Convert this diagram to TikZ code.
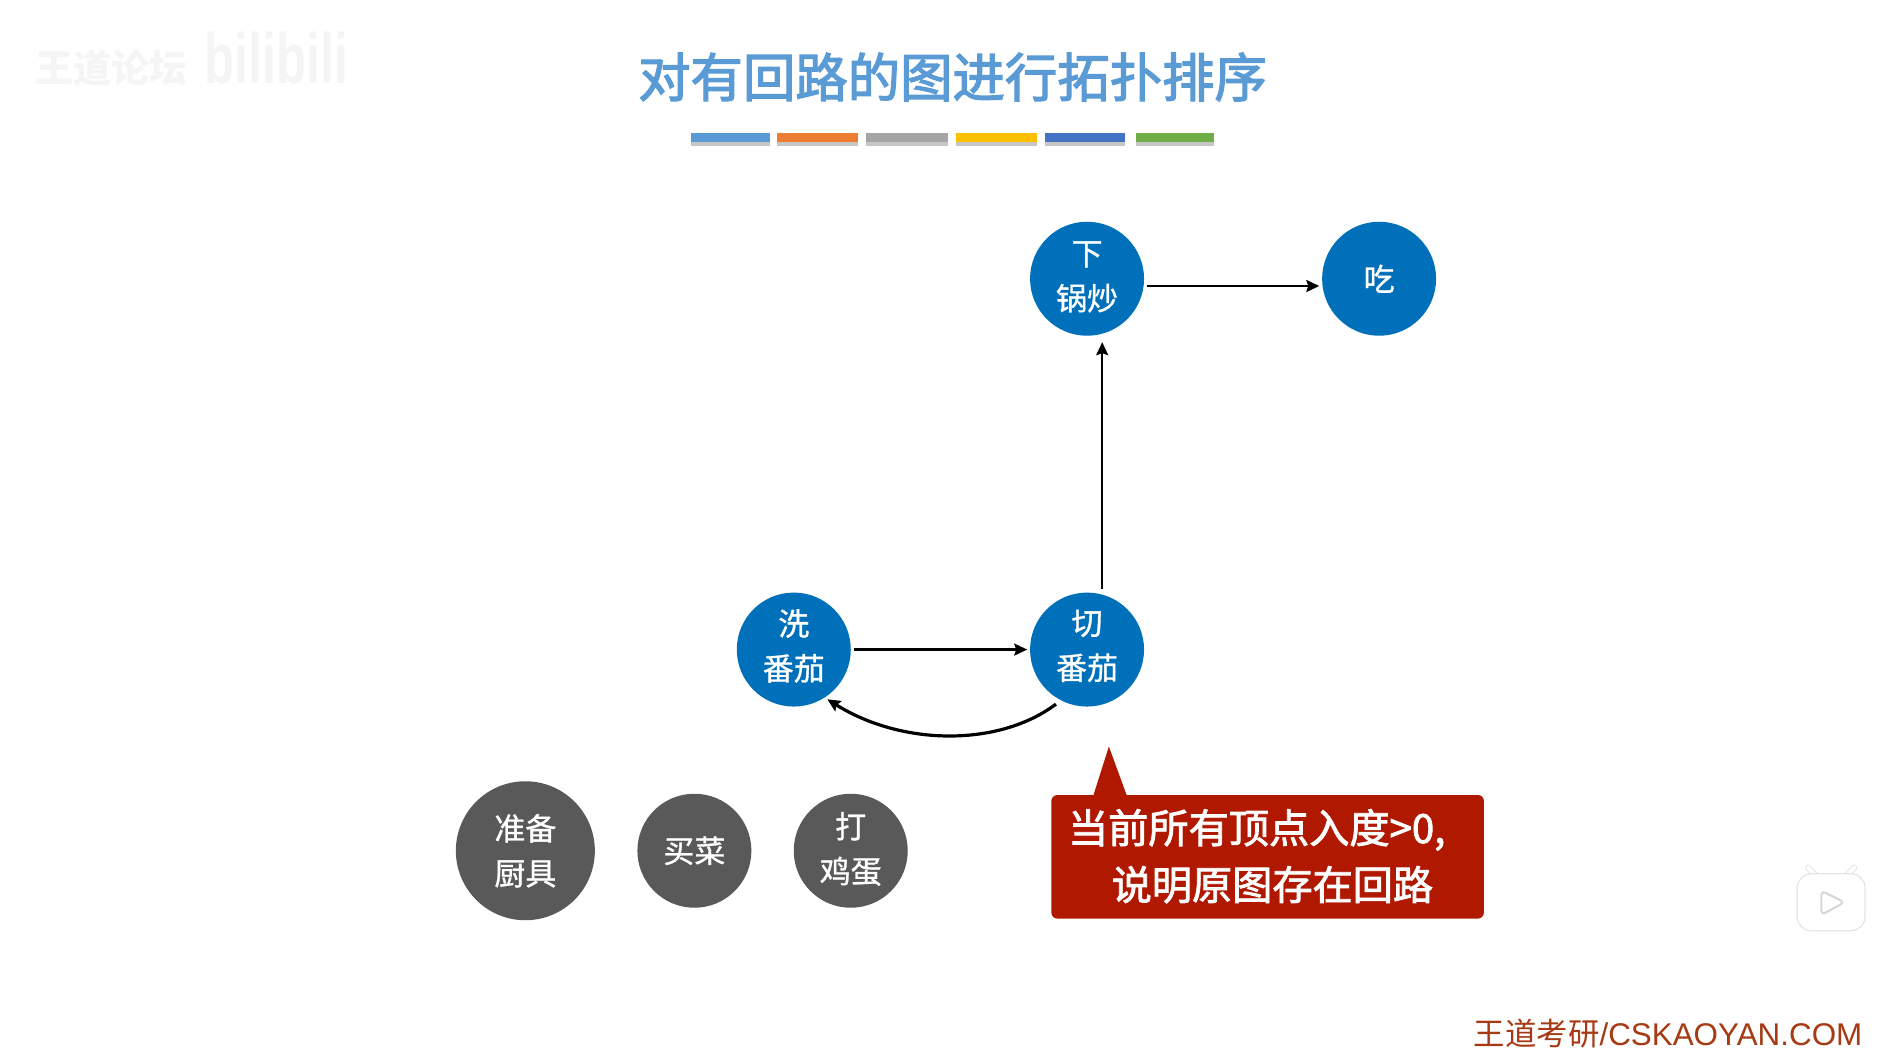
\documentclass[tikz,border=0pt]{standalone}
\usepackage{fontspec}
\setmainfont{Liberation Sans}
\newfontfamily\cjk{Noto Sans CJK SC}
\newfontfamily\cjknode[FakeBold=1]{Noto Sans CJK SC}
\newfontfamily\cjktitle[FakeBold=2.5]{Noto Sans CJK SC}
\newfontfamily\cjkcall[FakeBold=2]{Noto Sans CJK SC}
\usetikzlibrary{arrows.meta}
\definecolor{titleblue}{HTML}{5B9BD5}
\definecolor{nodeblue}{HTML}{0070BA}
\definecolor{nodegray}{HTML}{595959}
\definecolor{calloutred}{HTML}{B01800}
\definecolor{footred}{HTML}{A63A14}
\definecolor{barA}{HTML}{5B9BD5}
\definecolor{barB}{HTML}{ED7D31}
\definecolor{barC}{HTML}{A5A5A5}
\definecolor{barD}{HTML}{FFC000}
\definecolor{barE}{HTML}{4472C4}
\definecolor{barF}{HTML}{70AD47}
\newcommand{\lift}[2]{\raisebox{#1}[\height][\depth]{#2}}
\tikzset{
  vertex/.style={circle,minimum size=57pt,inner sep=0pt,text=white,align=center,
    font=\cjknode\fontsize{15.5}{22.4}\selectfont},
  bluev/.style={vertex,fill=nodeblue},
  grayv/.style={vertex,fill=nodegray},
  arr/.style={-{Stealth[length=6.5pt,width=6pt,inset=1pt]},line width=1.1pt,black},
  barshadow/.style={fill=gray!45,draw=none}
}
\begin{document}
\begin{tikzpicture}[x=0.606pt,y=-0.606pt]
\path[use as bounding box,fill=white] (0,0) rectangle (1567,874);
% watermark
\node (wmA) at (92,56) {\cjk\bfseries\fontsize{19}{21}\selectfont\textcolor{black!4}{王道论坛}};
\node (wmB) at (228,48) {\scalebox{0.8}[1.15]{\fontsize{31}{33}\selectfont\bfseries\textcolor{black!4}{bilibili}}};
% title
\node (title) at (786,63.5) {\cjktitle\fontsize{26.2}{30}\selectfont\textcolor{titleblue}{对有回路的图进行拓扑排序}};
% colour bars
\foreach \a/\b/\c in {570/635/barA,641/708/barB,715/782/barC,789/856/barD,862/928/barE,937/1002/barF}{
  \fill[barshadow] (\a,112) rectangle (\b,120.5);
  \fill[\c] (\a,110) rectangle (\b,117.5);
}
% vertices
\node[bluev] (xia) at (897,230) {\lift{0.9pt}{下}\\\lift{0.9pt}{锅炒}};
\node[bluev] (chi) at (1138,230) {吃};
\node[bluev] (xi) at (655,536) {\lift{1.8pt}{洗}\\\lift{1.8pt}{番茄}};
\node[bluev] (qie) at (897,536) {\lift{1.8pt}{切}\\\lift{1.8pt}{番茄}};
\node[grayv,minimum size=69.5pt] (zhun) at (433.5,702) {准备\\厨具};
\node[grayv] (mai) at (573,702) {买菜};
\node[grayv] (da) at (702,702) {\lift{0.9pt}{打}\\\lift{0.9pt}{鸡蛋}};
% connectors
\draw[arr] ([shift={(2,6)}]xia.east) -- ([shift={(-2,6)}]chi.west);
\draw[arr] ([shift={(2,0)}]xi.east) -- ([shift={(-2,0)}]qie.west);
\draw[arr] ([shift={(12.5,-3)}]qie.north) -- ([shift={(12.5,5)}]xia.south);
\draw[arr,line width=1.6pt] ([shift={(-2,4)}]qie.-120) .. controls (825,616) and (745,616) .. ([shift={(4,0)}]xi.-60);
% callout
\fill[calloutred] (902,657) -- (915,616) -- (930,657) -- cycle;
\node[fill=calloutred,rounded corners=3pt,minimum width=216.3pt,minimum height=61.8pt,inner sep=0pt] (callout) at (1046,707) {};
\node[text=white,align=left,inner sep=0pt,font=\cjkcall\fontsize{20.1}{28.4}\selectfont] (callouttext) at (1037,706.5) {当前所有顶点入度>0,\\\hspace*{21.8pt}说明原图存在回路};
% footer
\node (foot) at (1376.5,853) {\textcolor{footred}{\fontsize{15.7}{18}\selectfont{\cjk 王道考研}/CSKAOYAN.COM}};
% player icon
\draw[black!10,line width=3pt,line cap=round] (1498,722) -- (1492,716);
\draw[black!10,line width=3pt,line cap=round] (1524,722) -- (1530,716);
\draw[white,line width=2pt,line cap=round] (1498,722) -- (1492,716);
\draw[white,line width=2pt,line cap=round] (1524,722) -- (1530,716);
\draw[fill=white,draw=black!10,line width=0.6pt,rounded corners=7pt] (1483,721) rectangle (1539,768);
\draw[draw=black!16,fill=white,line width=1pt,rounded corners=2pt,line join=round] (1503,735) -- (1522,744.5) -- (1503,755) -- cycle;
\end{tikzpicture}
\end{document}
